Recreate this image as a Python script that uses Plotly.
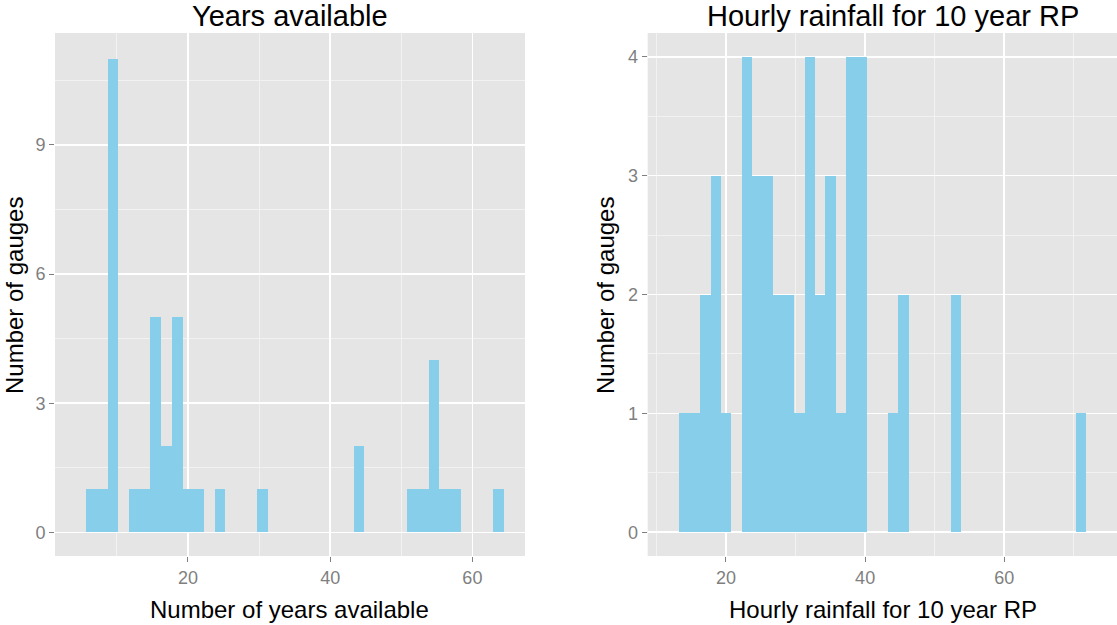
import plotly.graph_objects as go

# ---- Data ----
years_bin_start = 5.69      # left edge of first bin (years)
years_bin_width = 1.505
years_counts = [1, 1, 11, 0, 1, 1, 5, 2, 5, 1, 1, 0, 1, 0, 0, 0, 1, 0, 0, 0,
                0, 0, 0, 0, 0, 2, 0, 0, 0, 0, 1, 1, 4, 1, 1, 0, 0, 0, 1]

rain_bin_start = 13.29      # left edge of first bin (mm)
rain_bin_width = 1.5
rain_counts = [1, 1, 2, 3, 1, 0, 4, 3, 3, 2, 2, 1, 4, 2, 3, 1, 4, 4, 0, 0,
               1, 2, 0, 0, 0, 0, 2, 0, 0, 0, 0, 0, 0, 0, 0, 0, 0, 0, 1]

titles = ["Years available", "Hourly rainfall for 10 year RP"]
x_titles = ["Number of years available", "Hourly rainfall for 10 year RP"]
y_title = "Number of gauges"
x_ticks = [20, 40, 60]
y_ticks_left = [0, 3, 6, 9]
y_ticks_right = [0, 1, 2, 3, 4]

years_centers = [years_bin_start + (i + 0.5) * years_bin_width for i in range(len(years_counts))]
rain_centers = [rain_bin_start + (i + 0.5) * rain_bin_width for i in range(len(rain_counts))]

W, H = 1117, 625
BAR = "#87CEEB"
PANEL = "#E5E5E5"
GREY = "#7F7F7F"
FONT = "Arial, Liberation Sans, sans-serif"

fig = go.Figure()
fig.add_trace(go.Bar(x=years_centers, y=years_counts, width=years_bin_width,
                     marker=dict(color=BAR, line=dict(width=0)),
                     xaxis="x", yaxis="y", showlegend=False))
fig.add_trace(go.Bar(x=rain_centers, y=rain_counts, width=rain_bin_width,
                     marker=dict(color=BAR, line=dict(width=0)),
                     xaxis="x2", yaxis="y2", showlegend=False))

def px_x(p):
    return p / W

def px_y(p):
    return 1 - p / H

ydom = [px_y(556), px_y(33)]

common_x = dict(
    showgrid=True, gridcolor="white", gridwidth=1.6, zeroline=False,
    ticks="outside", ticklen=5, tickwidth=1, tickcolor=GREY,
    tickfont=dict(family=FONT, size=18, color=GREY),
    showline=False, tickmode="array", tickvals=x_ticks,
    minor=dict(dtick=10, tick0=0, showgrid=True, gridcolor="#F2F2F2", gridwidth=1, ticks=""),
)
common_y = dict(
    showgrid=True, gridcolor="white", gridwidth=1.6, zeroline=False,
    ticks="outside", ticklen=5, tickwidth=1, tickcolor=GREY,
    tickfont=dict(family=FONT, size=18, color=GREY),
    showline=False, tickmode="array",
)

fig.update_layout(
    width=W, height=H,
    margin=dict(l=0, r=0, t=0, b=0),
    paper_bgcolor="white", plot_bgcolor=PANEL,
    bargap=0, barmode="overlay",
    xaxis=dict(domain=[px_x(55), px_x(525)], range=[1.3, 67.4], anchor="y", **common_x),
    yaxis=dict(domain=ydom, range=[-0.55, 11.6], anchor="x", tickvals=y_ticks_left,
               minor=dict(dtick=1.5, tick0=1.5, showgrid=True, gridcolor="#F2F2F2", gridwidth=1, ticks=""),
               **common_y),
    xaxis2=dict(domain=[px_x(647.7), 1.0], range=[8.75, 76.2], anchor="y2", **common_x),
    yaxis2=dict(domain=ydom, range=[-0.2, 4.2], anchor="x2", tickvals=y_ticks_right,
                minor=dict(dtick=0.5, tick0=0.5, showgrid=True, gridcolor="#F2F2F2", gridwidth=1, ticks=""),
                **common_y),
)

ann = []
# Panel titles
ann.append(dict(text=titles[0], x=px_x(290), y=px_y(16), xref="paper", yref="paper",
                showarrow=False, xanchor="center", yanchor="middle",
                font=dict(family=FONT, size=29, color="black")))
ann.append(dict(text=titles[1], x=px_x(893), y=px_y(16), xref="paper", yref="paper",
                showarrow=False, xanchor="center", yanchor="middle",
                font=dict(family=FONT, size=29, color="black")))
# X axis titles
ann.append(dict(text=x_titles[0], x=px_x(289), y=px_y(609), xref="paper", yref="paper",
                showarrow=False, xanchor="center", yanchor="middle",
                font=dict(family=FONT, size=24, color="black")))
ann.append(dict(text=x_titles[1], x=px_x(883), y=px_y(609), xref="paper", yref="paper",
                showarrow=False, xanchor="center", yanchor="middle",
                font=dict(family=FONT, size=24, color="black")))
# Y axis titles
for xc in (14, 605):
    ann.append(dict(text=y_title, x=px_x(xc), y=px_y(296), xref="paper", yref="paper",
                    showarrow=False, xanchor="center", yanchor="middle", textangle=-90,
                    font=dict(family=FONT, size=24, color="black")))
fig.update_layout(annotations=ann)

# Remove the default 8px page margin so the figure fills the window exactly.
fig.write_html("out.html",
               config={"displayModeBar": False, "staticPlot": True},
               post_script="document.body.style.margin='0px';document.body.style.overflow='hidden';")
